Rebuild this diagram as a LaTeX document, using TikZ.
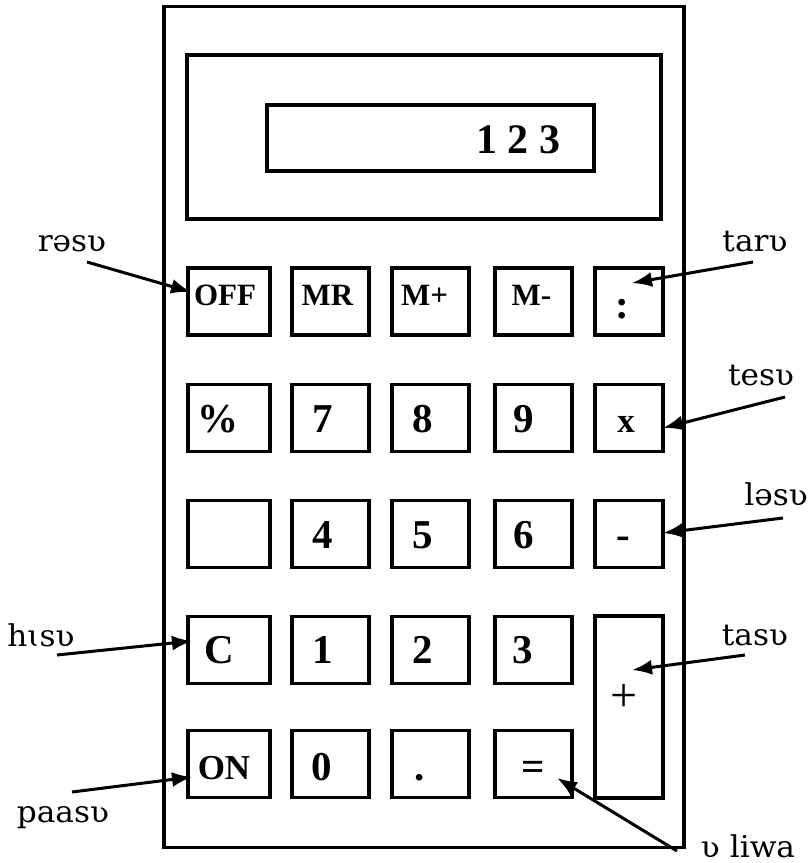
\documentclass[tikz,border=0pt]{standalone}
\usepackage{fontspec}
\setmainfont{Liberation Serif}
\newfontfamily\lblfont[FakeStretch=1.04]{DejaVu Serif}
\usetikzlibrary{arrows.meta}
\tikzset{
  box/.style={draw, line width=3.5pt, inner sep=0pt},
  keybox/.style={box, minimum height=67pt},
  wide/.style={minimum width=82pt},
  mid/.style={minimum width=77pt},
  narrow/.style={minimum width=68pt},
  smalltxt/.style={font=\fontsize{31}{33}\selectfont\bfseries, anchor=base, inner sep=0pt},
  bigtxt/.style={font=\fontsize{41}{43}\selectfont\bfseries, anchor=base, inner sep=0pt},
  lbl/.style={font=\lblfont\fontsize{30}{32}\selectfont, inner sep=0pt},
  arr/.style={line width=3pt, -{Latex[length=20pt,width=15pt]}},
}
\begin{document}
\begin{tikzpicture}[x=1pt,y=-1pt]
\useasboundingbox (0,0) rectangle (811,863);
% body and display
\node[box, minimum width=520pt, minimum height=841pt] (body) at (424,427) {};
\node[box, minimum width=474pt, minimum height=164pt] (disp) at (424,137) {};
\node[box, minimum width=327pt, minimum height=66pt] (screen) at (430.5,138) {};
\node[font=\fontsize{42}{44}\selectfont\bfseries, anchor=base, inner sep=0pt] (val) at (518,153) {1 2 3};
% row 1
\node[keybox, wide]   (off) at (229,301.5) {};
\node[keybox, mid]    (mr)  at (330.5,301.5) {};
\node[keybox, mid]    (mp)  at (430.5,301.5) {};
\node[keybox, mid]    (mm)  at (533.5,301.5) {};
\node[keybox, narrow] (dv)  at (629,301.5) {};
\node[smalltxt] (toff) at (225,305) {OFF};
\node[smalltxt] (tmr)  at (327.5,305) {MR};
\node[smalltxt] (tmp)  at (424.5,305) {M+};
\node[smalltxt] (tmm)  at (531.5,305) {M-};
\node[bigtxt]   (tdv)  at (622,318) {:};
% row 2
\node[keybox, wide]   (pc) at (229,418) {};
\node[keybox, mid]    (k7) at (330.5,418) {};
\node[keybox, mid]    (k8) at (430.5,418) {};
\node[keybox, mid]    (k9) at (533.5,418) {};
\node[keybox, narrow] (kx) at (629,418) {};
\node[bigtxt] (tpc) at (217.5,432) {\%};
\node[bigtxt] (t7)  at (323,432) {7};
\node[bigtxt] (t8)  at (423,432) {8};
\node[bigtxt] (t9)  at (524,432) {9};
\node[smalltxt, font=\fontsize{35}{37}\selectfont\bfseries] (tx) at (626,432) {x};
% row 3
\node[keybox, wide]   (blank) at (229,534) {};
\node[keybox, mid]    (k4) at (330.5,534) {};
\node[keybox, mid]    (k5) at (430.5,534) {};
\node[keybox, mid]    (k6) at (533.5,534) {};
\node[keybox, narrow] (km) at (629,534) {};
\node[bigtxt] (t4) at (323,548) {4};
\node[bigtxt] (t5) at (423,548) {5};
\node[bigtxt] (t6) at (524,548) {6};
\node[bigtxt] (tm) at (623.5,548) {-};
% row 4
\node[keybox, wide] (kc) at (229,650) {};
\node[keybox, mid]  (k1) at (330.5,650) {};
\node[keybox, mid]  (k2) at (430.5,650) {};
\node[keybox, mid]  (k3) at (533.5,650) {};
\node[box, minimum width=68pt, minimum height=182pt] (kp) at (629,707) {};
\node[bigtxt] (tc) at (219.5,663) {C};
\node[bigtxt] (t1) at (323,663) {1};
\node[bigtxt] (t2) at (422.5,663) {2};
\node[bigtxt] (t3) at (523,663) {3};
\node[font=\fontsize{48}{50}\selectfont, inner sep=0pt] (tp) at (624,698) {+};
% row 5
\node[keybox, wide] (kon) at (229,764) {};
\node[keybox, mid]  (k0)  at (330.5,764) {};
\node[keybox, mid]  (kdot) at (430.5,764) {};
\node[keybox, mid]  (keq) at (533.5,764) {};
\node[smalltxt, font=\fontsize{35}{37}\selectfont\bfseries] (ton) at (224,779) {ON};
\node[bigtxt] (t0)  at (322,780) {0};
\node[bigtxt] (tdot) at (420,780) {.};
\node[bigtxt] (teq) at (533,780) {=};
% labels
\node[lbl] (lr)  at (72,244)  {rəsʋ};
\node[lbl] (lta) at (755,242) {tarʋ};
\node[lbl] (lte) at (761,376) {tesʋ};
\node[lbl] (ll)  at (776,494) {ləsʋ};
\node[lbl] (lts) at (755,636) {tasʋ};
\node[lbl] (lh)  at (41,635)  {hɩsʋ};
\node[lbl] (lp)  at (63,818)  {paasʋ};
\node[lbl] (lv)  at (748,846) {ʋ liwa};
% arrow coordinates
\coordinate (ar1) at (87,262);  \coordinate (ar2) at (191,292);
\coordinate (ata1) at (753,262); \coordinate (ata2) at (632,283);
\coordinate (ate1) at (785,397); \coordinate (ate2) at (663,428);
\coordinate (al1) at (783,518);  \coordinate (al2) at (663,533);
\coordinate (ats1) at (745,655); \coordinate (ats2) at (632,670);
\coordinate (ah1) at (57,655);   \coordinate (ah2) at (192,641);
\coordinate (ap1) at (72,792);   \coordinate (ap2) at (192,777);
\coordinate (av1) at (677,851);  \coordinate (av2) at (557,778);
\draw[arr] (ar1) -- (ar2);
\draw[arr] (ata1) -- (ata2);
\draw[arr] (ate1) -- (ate2);
\draw[arr] (al1) -- (al2);
\draw[arr] (ats1) -- (ats2);
\draw[arr] (ah1) -- (ah2);
\draw[arr] (ap1) -- (ap2);
\draw[arr] (av1) -- (av2);
\end{tikzpicture}
\end{document}
